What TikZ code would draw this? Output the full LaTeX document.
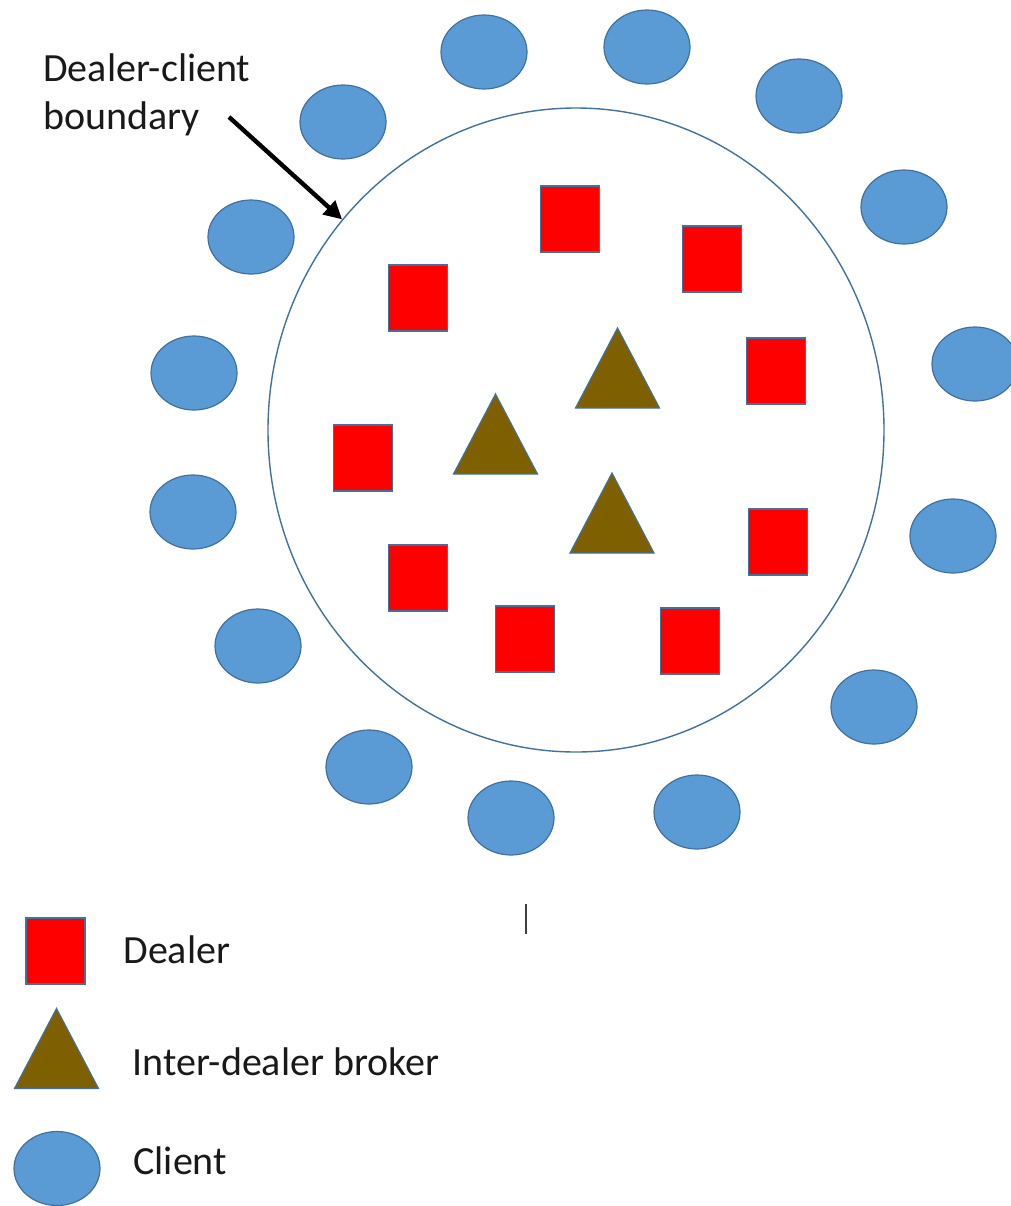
\documentclass[tikz,border=0pt]{standalone}
\usepackage{fontspec}
\setmainfont{Carlito}
\usetikzlibrary{arrows.meta,shapes.geometric}

\definecolor{clientblue}{HTML}{5B9BD5}
\definecolor{edgeblue}{HTML}{41719C}
\definecolor{brokerbrown}{HTML}{7F6000}

\tikzset{
  client/.style={ellipse, draw=edgeblue, fill=clientblue, line width=0.6pt,
    minimum width=43pt, minimum height=37pt, inner sep=0pt},
  dealer/.style={rectangle, draw=edgeblue, fill=red, line width=0.75pt,
    minimum width=29.5pt, minimum height=33pt, inner sep=0pt},
  brokershape/.style={draw=edgeblue, fill=brokerbrown, line width=0.6pt, line join=miter},
  broker/.pic={\path[brokershape] (-42,40) -- (0,-40) -- (42,40) -- cycle;},
  label/.style={font=\fontsize{20}{24}\selectfont, inner sep=0pt, text=black!90},
}

\begin{document}
\begin{tikzpicture}[x=0.5pt, y=-0.5pt]
  \clip (0,0) rectangle (1011,1206);

  % market boundary
  \node[ellipse, draw=edgeblue, line width=0.7pt, minimum width=308pt,
        minimum height=322pt, inner sep=0pt] (boundary) at (576,430) {};

  % clients outside the boundary
  \node[client] (c1)  at (484,52)  {};
  \node[client] (c2)  at (647,47)  {};
  \node[client] (c3)  at (799,96)  {};
  \node[client] (c4)  at (343,122) {};
  \node[client] (c5)  at (904,207) {};
  \node[client] (c6)  at (251,237) {};
  \node[client] (c7)  at (194,373) {};
  \node[client] (c8)  at (975,364) {};
  \node[client] (c9)  at (193,512) {};
  \node[client] (c10) at (953,536) {};
  \node[client] (c11) at (258,646) {};
  \node[client] (c12) at (874,707) {};
  \node[client] (c13) at (369,767) {};
  \node[client] (c14) at (511,818) {};
  \node[client] (c15) at (697,812) {};

  % dealers inside the boundary
  \node[dealer] (d1) at (570,219) {};
  \node[dealer] (d2) at (418,298) {};
  \node[dealer] (d3) at (712,259) {};
  \node[dealer] (d4) at (776,371) {};
  \node[dealer] (d5) at (363,458) {};
  \node[dealer] (d6) at (778,542) {};
  \node[dealer] (d7) at (418,578) {};
  \node[dealer] (d8) at (525,639) {};
  \node[dealer] (d9) at (690,641) {};

  % inter-dealer brokers
  \pic (b1) at (617.5,368) {broker};
  \pic (b2) at (495.5,434) {broker};
  \pic (b3) at (612,513)   {broker};

  % boundary annotation (base anchor sits on the last line)
  \node[label, align=left, anchor=base west] (boundarytext) at (43,129)
    {Dealer-client\\boundary};
  \coordinate (arrowstart) at (229,117);
  \draw[line width=2.2pt, -{Triangle[length=9pt, width=9pt]}]
    (arrowstart) -- (boundary.138);

  % cursor mark
  \coordinate (cursortop) at (526,904);
  \coordinate (cursorbot) at (526,934);
  \draw[black!75, line width=0.8pt] (cursortop) -- (cursorbot);

  % legend
  \node[dealer] (ldealer) at (55.5,951) {};
  \node[label, anchor=base west] (ldealertext) at (123,963) {Dealer};
  \pic (lbroker) at (56.5,1048.5) {broker};
  \node[label, anchor=base west] (lbrokertext) at (132,1075) {Inter-dealer broker};
  \node[client] (lclient) at (57,1168.5) {};
  \node[label, anchor=base west] (lclienttext) at (133,1174) {Client};
\end{tikzpicture}
\end{document}
